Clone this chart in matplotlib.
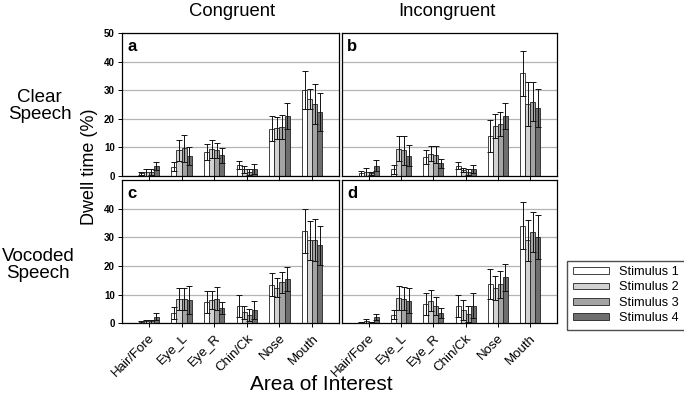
import matplotlib
matplotlib.use("Agg")
from matplotlib import pyplot as plt
import numpy as np

plt.rcParams['font.family'] = ['Liberation Sans', 'DejaVu Sans']

areas = ["Hair/Fore", "Eye_L", "Eye_R", "Chin/Ck", "Nose", "Mouth"]
stimuli = ["Stimulus 1", "Stimulus 2", "Stimulus 3", "Stimulus 4"]
colores = ["#ffffff", "#d2d2d2", "#a3a3a3", "#6e6e6e"]

# medias por panel: filas = estimulo, columnas = area
media_a = [[1.0, 3.3, 8.5, 3.8, 16.6, 30.0],
           [1.3, 9.0, 9.4, 2.3, 16.9, 27.0],
           [1.3, 9.7, 9.0, 1.5, 17.2, 25.2],
           [3.5, 6.9, 7.3, 2.5, 21.0, 22.4]]
error_a = [[0.5, 1.7, 2.8, 1.5, 4.4, 6.6],
           [1.2, 3.7, 3.2, 1.3, 3.8, 3.6],
           [1.0, 4.7, 2.7, 1.0, 4.1, 7.0],
           [1.5, 3.1, 2.6, 1.8, 4.6, 6.7]]

media_b = [[0.9, 2.3, 6.7, 3.6, 14.0, 35.9],
           [1.3, 9.6, 7.8, 2.1, 17.5, 25.1],
           [0.9, 9.0, 7.4, 1.3, 18.2, 26.0],
           [3.6, 7.1, 4.4, 2.4, 21.1, 23.8]]
error_b = [[0.8, 1.6, 2.5, 1.2, 5.5, 8.0],
           [1.4, 4.3, 2.6, 0.8, 4.3, 7.7],
           [0.6, 5.0, 3.0, 1.0, 4.2, 6.9],
           [2.0, 3.7, 1.7, 1.4, 4.5, 6.6]]

media_c = [[0.35, 3.5, 7.5, 6.0, 13.4, 32.1],
           [0.6, 8.5, 8.1, 3.8, 12.4, 29.0],
           [0.6, 8.5, 8.5, 2.8, 14.3, 29.2],
           [2.3, 8.1, 5.3, 4.6, 15.4, 27.2]]
error_c = [[0.3, 2.1, 3.9, 3.9, 4.0, 7.7],
           [0.4, 3.9, 3.3, 2.3, 3.3, 6.8],
           [0.4, 3.9, 4.0, 2.1, 3.7, 7.3],
           [1.2, 4.8, 2.0, 3.3, 4.2, 6.7]]

media_d = [[0.25, 2.9, 6.7, 6.0, 13.6, 34.1],
           [0.6, 8.8, 7.8, 4.5, 12.3, 29.0],
           [0.25, 8.5, 6.0, 3.2, 13.6, 32.0],
           [2.2, 7.8, 3.6, 6.1, 16.0, 30.0]]
error_d = [[0.2, 1.6, 3.9, 4.0, 5.2, 8.3],
           [0.7, 4.1, 3.7, 3.5, 4.3, 7.2],
           [0.2, 4.0, 3.0, 2.8, 4.8, 7.0],
           [1.0, 4.4, 1.7, 4.3, 4.8, 7.7]]

paneles = [("a", media_a, error_a), ("b", media_b, error_b),
           ("c", media_c, error_c), ("d", media_d, error_d)]

fig = plt.figure(figsize=(6.84, 3.99), dpi=100)

# posiciones de los ejes en fraccion de figura
izq = [0.178, 0.500]
ancho = [0.318, 0.314]
abajo = [0.559, 0.190]
alto = 0.358

x = np.arange(len(areas))
w = 0.155
ejes = []
for i, (letra, media, error) in enumerate(paneles):
    fila, col = i // 2, i % 2
    ax = fig.add_axes([izq[col], abajo[fila], ancho[col], alto])
    ejes.append(ax)
    for k in range(len(stimuli)):
        pos = x + (k - 1.5) * w
        ax.bar(pos, media[k], w, color=colores[k], edgecolor="#222222",
               linewidth=0.6, zorder=2, label=stimuli[k])
        ax.errorbar(pos, media[k], yerr=error[k], fmt="none", ecolor="#111111",
                    elinewidth=0.7, capsize=2, capthick=0.7, zorder=3)
    ax.set_ylim(0, 50)
    ax.set_xlim(-0.83, 5.83)
    ax.set_yticks([10, 20, 30, 40])
    ax.yaxis.grid(True, color="#b4b4b4", linewidth=0.9, zorder=0)
    ax.set_axisbelow(True)
    for s in ax.spines.values():
        s.set_linewidth(0.9)
    ax.text(0.025, 0.96, letra, transform=ax.transAxes, fontsize=12,
            fontweight="bold", va="top", ha="left")
    ax.set_xticks(x)
    ax.tick_params(axis="x", length=3, width=0.7, direction="out")
    if col == 0:
        if fila == 0:
            ax.set_yticks([0, 10, 20, 30, 40, 50])
        else:
            ax.set_yticks([0, 10, 20, 30, 40])
        ax.tick_params(axis="y", labelsize=7, length=3, width=0.7, pad=2)
        for t in ax.get_yticklabels():
            t.set_fontweight("bold")
    else:
        ax.tick_params(axis="y", length=0, labelleft=False)
    if fila == 0:
        ax.set_xticklabels([])
    else:
        ax.set_xticklabels(areas, rotation=45, ha="right", rotation_mode="anchor",
                           fontsize=9.5)
    ax.yaxis.grid(True, color="#b4b4b4", linewidth=0.9, zorder=0)

fig.text(0.339, 0.970, "Congruent", fontsize=13.3, ha="center", va="center")
fig.text(0.654, 0.970, "Incongruent", fontsize=13.3, ha="center", va="center")
fig.text(0.058, 0.735, "Clear\nSpeech", fontsize=13.5, ha="center", va="center",
         linespacing=1.0)
fig.text(0.056, 0.336, "Vocoded\nSpeech", fontsize=13.5, ha="center", va="center",
         linespacing=1.0)
fig.text(0.131, 0.581, "Dwell time (%)", fontsize=13, rotation=90,
         ha="center", va="center")
fig.text(0.47, 0.037, "Area of Interest", fontsize=15, ha="center", va="center")

handles, labels = ejes[3].get_legend_handles_labels()
fig.legend(handles, labels, loc="upper left", bbox_to_anchor=(0.820, 0.363),
           fontsize=9.2, frameon=True, fancybox=False, edgecolor="#222222",
           handlelength=2.8, handleheight=0.45, borderpad=0.45, labelspacing=0.25)

fig.savefig("out.png", dpi=100)
